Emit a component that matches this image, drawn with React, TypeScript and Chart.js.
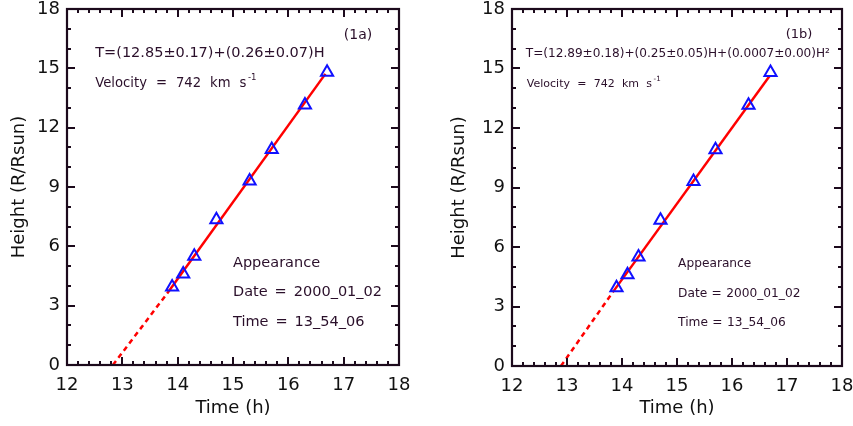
import { useEffect, useRef } from "react";
import { Chart, registerables } from "chart.js";

Chart.register(...registerables);

// ---- data ----
const times = [13.9, 14.1, 14.3, 14.7, 15.3, 15.7, 16.3, 16.7];
const heights = [3.95, 4.6, 5.5, 7.35, 9.3, 10.9, 13.15, 14.8];

// fit lines: [time, height] end points (solid = fitted range, dashed = back-extrapolation)
const fitSolidA = [[13.81, 3.62], [16.67, 14.72]];
const fitDashA = [[12.83, 0], [13.81, 3.62]];
const fitSolidB = [[13.84, 3.75], [16.69, 14.65]];
const fitDashB = [[12.89, 0], [13.84, 3.75]];

const xTicks = [12, 13, 14, 15, 16, 17, 18];
const yTicks = [0, 3, 6, 9, 12, 15, 18];

const labelA = "(1a)";
const labelB = "(1b)";
const equationA = "T=(12.85±0.17)+(0.26±0.07)H";
const equationB = "T=(12.89±0.18)+(0.25±0.05)H+(0.0007±0.00)H²";
const velocityText = "Velocity = 742 km s";
const velocitySup = "-1";
const infoLines = ["Appearance", "Date = 2000_01_02", "Time = 13_54_06"];

const FONT = "'DejaVu Sans', sans-serif";
const TEXT_COLOR = "#2a0f2a";
const AXIS_COLOR = "#1c0a1c";

type Note = { text: string; x: number; y: number; size: number; align: CanvasTextAlign; gap: number; sup?: string };

type PanelCfg = {
  width: number;
  yWidth: number;
  xHeight: number;
  padRight: number;
  yTitlePad: number;
  solid: number[][];
  dash: number[][];
  notes: Note[];
};

const panelA: PanelCfg = {
  width: 426,
  yWidth: 67,
  xHeight: 61,
  padRight: 27,
  yTitlePad: 9,
  solid: fitSolidA,
  dash: fitDashA,
  notes: [
    { text: labelA, x: 17.26, y: 16.69, size: 14, align: "center", gap: 0.3 },
    { text: equationA, x: 12.51, y: 15.74, size: 14.5, align: "left", gap: 0.3 },
    { text: velocityText, x: 12.51, y: 14.23, size: 13.2, align: "left", gap: 0.68, sup: velocitySup },
    { text: infoLines[0], x: 15.0, y: 5.13, size: 14.5, align: "left", gap: 0.48 },
    { text: infoLines[1], x: 15.0, y: 3.67, size: 14.5, align: "left", gap: 0.48 },
    { text: infoLines[2], x: 15.0, y: 2.16, size: 14.5, align: "left", gap: 0.48 },
  ],
};

const panelB: PanelCfg = {
  width: 427,
  yWidth: 86,
  xHeight: 60,
  padRight: 11,
  yTitlePad: 23,
  solid: fitSolidB,
  dash: fitDashB,
  notes: [
    { text: labelB, x: 17.22, y: 16.7, size: 13, align: "center", gap: 0.3 },
    { text: equationB, x: 12.25, y: 15.75, size: 12.1, align: "left", gap: 0.3 },
    { text: velocityText, x: 12.27, y: 14.19, size: 11, align: "left", gap: 0.66, sup: velocitySup },
    { text: infoLines[0], x: 15.02, y: 5.17, size: 12.2, align: "left", gap: 0.36 },
    { text: infoLines[1], x: 15.02, y: 3.66, size: 12.2, align: "left", gap: 0.36 },
    { text: infoLines[2], x: 15.02, y: 2.16, size: 12.2, align: "left", gap: 0.36 },
  ],
};

const framePlugin = {
  id: "idlFrame",
  afterDatasetsDraw(chart: any) {
    const { ctx, chartArea } = chart;
    const xs = chart.scales.x;
    const ys = chart.scales.y;
    const { left, right, top, bottom } = chartArea;
    ctx.save();
    ctx.strokeStyle = AXIS_COLOR;
    ctx.lineWidth = 2;
    // x ticks (major every 1, minor every 0.2)
    for (let i = 0; i <= 30; i++) {
      const v = 12 + i * 0.2;
      const px = Math.round(xs.getPixelForValue(v));
      const len = i % 5 === 0 ? 8 : 4;
      ctx.beginPath();
      ctx.moveTo(px, bottom);
      ctx.lineTo(px, bottom - len);
      ctx.moveTo(px, top);
      ctx.lineTo(px, top + len);
      ctx.stroke();
    }
    // y ticks (major every 3, minor every 1)
    for (let v = 0; v <= 18; v++) {
      const py = Math.round(ys.getPixelForValue(v));
      const len = v % 3 === 0 ? 8 : 4;
      ctx.beginPath();
      ctx.moveTo(left, py);
      ctx.lineTo(left + len, py);
      ctx.moveTo(right, py);
      ctx.lineTo(right - len, py);
      ctx.stroke();
    }
    ctx.lineWidth = 2.2;
    ctx.strokeRect(left, top, right - left, bottom - top);
    ctx.restore();
  },
};

// draws text word by word with the wide inter-word spacing of the original
function drawSpaced(ctx: CanvasRenderingContext2D, text: string, x: number, y: number, size: number, align: CanvasTextAlign, gapEm: number) {
  const words = text.split(" ");
  const gap = size * gapEm;
  const widths = words.map((w) => ctx.measureText(w).width);
  const total = widths.reduce((a, b) => a + b, 0) + gap * (words.length - 1);
  let cx = align === "center" ? x - total / 2 : align === "right" ? x - total : x;
  ctx.textAlign = "left";
  words.forEach((w, i) => {
    ctx.fillText(w, cx, y);
    cx += widths[i] + gap;
  });
  return cx - gap;
}

const notesPlugin = {
  id: "notes",
  afterDraw(chart: any) {
    const notes: Note[] = chart.options.plugins.notes?.items || [];
    const { ctx } = chart;
    const xs = chart.scales.x;
    const ys = chart.scales.y;
    ctx.save();
    ctx.fillStyle = TEXT_COLOR;
    ctx.textBaseline = "middle";
    for (const n of notes) {
      const px = xs.getPixelForValue(n.x);
      const py = ys.getPixelForValue(n.y);
      ctx.font = `${n.size}px ${FONT}`;
      const end = drawSpaced(ctx, n.text, px, py, n.size, n.align, n.gap);
      if (n.sup) {
        ctx.font = `${n.size * 0.65}px ${FONT}`;
        ctx.textAlign = "left";
        ctx.fillText(n.sup, end + 1.5, py - n.size * 0.45);
      }
    }
    ctx.restore();
  },
};

function Panel({ cfg }: { cfg: PanelCfg }) {
  const ref = useRef<HTMLCanvasElement | null>(null);
  useEffect(() => {
    if (!ref.current) return;
    const toPts = (arr: number[][]) => arr.map(([x, y]) => ({ x, y }));
    const chart = new Chart(ref.current, {
      type: "scatter",
      data: {
        datasets: [
          {
            data: times.map((t, i) => ({ x: t, y: heights[i] })),
            pointStyle: "triangle",
            pointRadius: 7,
            pointBorderWidth: 2,
            pointBorderColor: "#1010ff",
            pointBackgroundColor: "rgba(0,0,0,0)",
            showLine: false,
          },
          {
            data: toPts(cfg.solid),
            showLine: true,
            borderColor: "#ff0000",
            borderWidth: 2.5,
            pointRadius: 0,
          },
          {
            data: toPts(cfg.dash),
            showLine: true,
            borderColor: "#ff0000",
            borderWidth: 2.5,
            borderDash: [5, 4],
            pointRadius: 0,
          },
        ],
      } as any,
      options: {
        responsive: false,
        animation: false,
        devicePixelRatio: 1,
        layout: { padding: { left: 0, right: cfg.padRight, top: 7, bottom: 0 } },
        plugins: {
          legend: { display: false },
          tooltip: { enabled: false },
          notes: { items: cfg.notes },
        } as any,
        scales: {
          x: {
            type: "linear",
            min: 12,
            max: 18,
            afterBuildTicks: (s: any) => {
              s.ticks = xTicks.map((v) => ({ value: v }));
            },
            afterFit: (s: any) => {
              s.height = cfg.xHeight;
              s.paddingLeft = 0;
              s.paddingRight = 0;
            },
            grid: { display: false, drawTicks: false },
            border: { display: false },
            ticks: {
              padding: 10,
              color: "#111111",
              font: { family: FONT, size: 18 },
              maxRotation: 0,
              autoSkip: false,
            },
            title: {
              display: true,
              text: "Time (h)",
              color: "#111111",
              font: { family: FONT, size: 18 },
              padding: { top: 0, bottom: 7 },
            },
          },
          y: {
            type: "linear",
            min: 0,
            max: 18,
            afterBuildTicks: (s: any) => {
              s.ticks = yTicks.map((v) => ({ value: v }));
            },
            afterFit: (s: any) => {
              s.width = cfg.yWidth;
              s.paddingTop = 0;
              s.paddingBottom = 0;
            },
            grid: { display: false, drawTicks: false },
            border: { display: false },
            ticks: {
              padding: 7,
              color: "#111111",
              font: { family: FONT, size: 18 },
              autoSkip: false,
            },
            title: {
              display: true,
              text: "Height (R/Rsun)",
              color: "#111111",
              font: { family: FONT, size: 18 },
              padding: { top: cfg.yTitlePad, bottom: 0 },
            },
          },
        },
      } as any,
      plugins: [framePlugin, notesPlugin],
    });
    return () => chart.destroy();
  }, [cfg]);
  return (
    <canvas
      ref={ref}
      width={cfg.width}
      height={426}
      style={{ width: cfg.width, height: 426, display: "block" }}
    />
  );
}

export default function App() {
  return (
    <div
      style={{
        position: "absolute",
        left: 0,
        top: 0,
        width: 853,
        height: 426,
        display: "flex",
        background: "#ffffff",
      }}
    >
      <Panel cfg={panelA} />
      <Panel cfg={panelB} />
    </div>
  );
}
